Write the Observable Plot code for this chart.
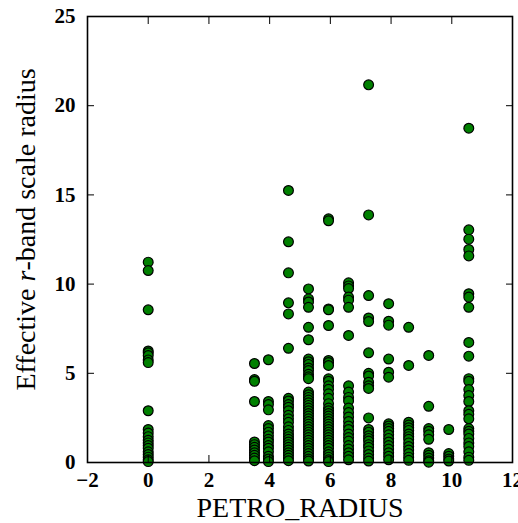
<!DOCTYPE html>
<html>
<head>
<meta charset="utf-8">
<script src="https://cdn.jsdelivr.net/npm/d3@7"></script>
<script src="https://cdn.jsdelivr.net/npm/@observablehq/plot@0.6"></script>
<style>
  html, body { margin: 0; padding: 0; background: white; overflow: hidden; }
</style>
</head>
<body>
<div id="chart"></div>
<script>
// PETRO_RADIUS values (discrete columns) and the effective r-band radii observed at each
const petroRadius = [0, 3.5, 3.96, 4.62, 5.28, 5.94, 6.6, 7.26, 7.92, 8.58, 9.24, 9.9, 10.56];
const col0    = [11.23, 10.76, 8.56, 6.25, 6.15, 6.0, 5.75, 5.6, 2.9, 1.85, 1.65, 1.45, 1.25, 1.1, 0.95, 0.8, 0.6, 0.45, 0.3, 0.15, 0.05];
const col3_50 = [5.55, 4.65, 4.55, 3.42, 1.15, 1.0, 0.85, 0.7, 0.55, 0.4, 0.25, 0.1];
const col3_96 = [5.76, 3.42, 3.25, 2.95, 2.07, 1.9, 1.7, 1.5, 1.3, 1.15, 0.95, 0.8, 0.6, 0.35, 0.2, 0.05];
const col4_62 = [15.25, 12.37, 10.63, 8.95, 8.33, 6.4, 3.6, 3.45, 3.25, 3.1, 2.9, 2.65, 2.45, 2.25, 2.0, 1.8, 1.6, 1.45, 1.3, 1.15, 1.0, 0.85, 0.7, 0.55, 0.4, 0.25, 0.1];
const col5_28 = [9.73, 9.17, 9.0, 8.7, 7.58, 6.88, 5.8, 5.65, 5.5, 5.3, 5.15, 4.95, 4.8, 4.7, 3.95, 3.8, 3.65, 3.5, 3.35, 3.2, 3.05, 2.9, 2.75, 2.6, 2.45, 2.3, 2.15, 2.0, 1.85, 1.7, 1.55, 1.4, 1.25, 1.1, 0.95, 0.8, 0.65, 0.5, 0.35, 0.2, 0.08];
const col5_94 = [13.66, 13.55, 8.61, 8.56, 7.68, 5.72, 5.6, 5.44, 4.69, 4.55, 4.3, 4.1, 3.85, 3.6, 3.3, 3.05, 2.9, 2.75, 2.6, 2.45, 2.3, 2.15, 2.0, 1.85, 1.7, 1.55, 1.4, 1.25, 1.1, 0.95, 0.8, 0.6, 0.45, 0.3, 0.15, 0.05];
const col6_60 = [10.07, 9.9, 9.75, 9.27, 9.1, 8.7, 7.12, 4.3, 3.95, 3.65, 3.45, 3.05, 2.8, 2.55, 2.3, 2.05, 1.85, 1.6, 1.4, 1.2, 0.95, 0.75, 0.55, 0.35, 0.15];
const col7_26 = [21.17, 13.88, 9.36, 8.1, 7.9, 6.15, 5.0, 4.85, 4.5, 4.3, 4.15, 2.5, 1.85, 1.7, 1.5, 1.35, 1.2, 1.0, 0.85, 0.65, 0.45, 0.25, 0.08];
const col7_92 = [8.9, 7.92, 7.7, 5.8, 5.06, 4.78, 2.17, 2.05, 1.9, 1.75, 1.55, 1.35, 1.15, 0.95, 0.75, 0.55, 0.35, 0.15];
const col8_58 = [7.58, 5.44, 2.26, 2.1, 1.95, 1.8, 1.6, 1.45, 1.3, 1.1, 0.9, 0.7, 0.5, 0.3, 0.12];
const col9_24 = [6.0, 3.15, 1.9, 1.75, 1.55, 1.3, 0.55, 0.4, 0.25, 0.1, 0.02];
const col9_90 = [1.85, 0.5, 0.35, 0.2, 0.08];
const col10_56 = [18.74, 13.04, 12.52, 11.94, 11.58, 9.46, 9.27, 8.7, 6.73, 5.96, 4.7, 4.55, 4.09, 3.75, 3.42, 2.9, 2.7, 2.45, 1.9, 1.75, 1.6, 1.35, 1.1, 0.9, 0.6, 0.3, 0.12];
const radiusColumns = [col0, col3_50, col3_96, col4_62, col5_28, col5_94, col6_60, col7_26, col7_92, col8_58, col9_24, col9_90, col10_56];

const xTicks = [-2, 0, 2, 4, 6, 8, 10, 12];
const yTicks = [0, 5, 10, 15, 20, 25];
const xLabel = "PETRO_RADIUS";
const yLabel = "Effective r-band scale radius";

const points = [];
petroRadius.forEach((px, i) => radiusColumns[i].forEach(v => points.push({petro: px, reff: v})));

const serif = "'Liberation Serif', 'DejaVu Serif', serif";

const chart = Plot.plot({
  width: 518,
  height: 523,
  marginLeft: 87,
  marginRight: 6,
  marginTop: 16,
  marginBottom: 61,
  style: {fontFamily: serif, fontSize: "21px", fontWeight: "bold", background: "white", color: "black", overflow: "visible"},
  x: {domain: [-2, 12]},
  y: {domain: [0, 25]},
  marks: [
    Plot.dot(points, {x: "petro", y: "reff", r: 4.9, fill: "#008000", stroke: "black", strokeWidth: 1.2}),
    Plot.axisX(xTicks, {anchor: "bottom", tickSize: -7, tickPadding: 17, label: null, stroke: "black"}),
    Plot.axisX(xTicks, {anchor: "top", tickSize: -7, tickFormat: () => "", label: null, stroke: "black"}),
    Plot.axisY(yTicks, {anchor: "left", tickSize: -7, tickPadding: 19, label: null, stroke: "black"}),
    Plot.axisY(yTicks, {anchor: "right", tickSize: -7, tickFormat: () => "", label: null, stroke: "black"}),
    Plot.frame({stroke: "black", strokeWidth: 1.6}),
    Plot.text([xLabel], {frameAnchor: "bottom", dy: 54, text: d => d, fontSize: 28, fontWeight: "normal", fill: "black"}),
    Plot.text([yLabel], {frameAnchor: "left", dx: -61, dy: -10, rotate: -90, text: d => d, fontSize: 28, fontWeight: "normal", fill: "black", textAnchor: "middle"})
  ]
});

// italicise the "r" in the y label (kept as real text)
d3.select(chart).selectAll("text").each(function() {
  if (this.textContent === yLabel) {
    const t = d3.select(this);
    t.text(null);
    t.attr("text-anchor", "middle");
    t.append("tspan").text("Effective ");
    t.append("tspan").attr("font-style", "italic").text("r");
    t.append("tspan").text("-band scale radius");
  }
});

document.getElementById("chart").appendChild(chart);
</script>
</body>
</html>
